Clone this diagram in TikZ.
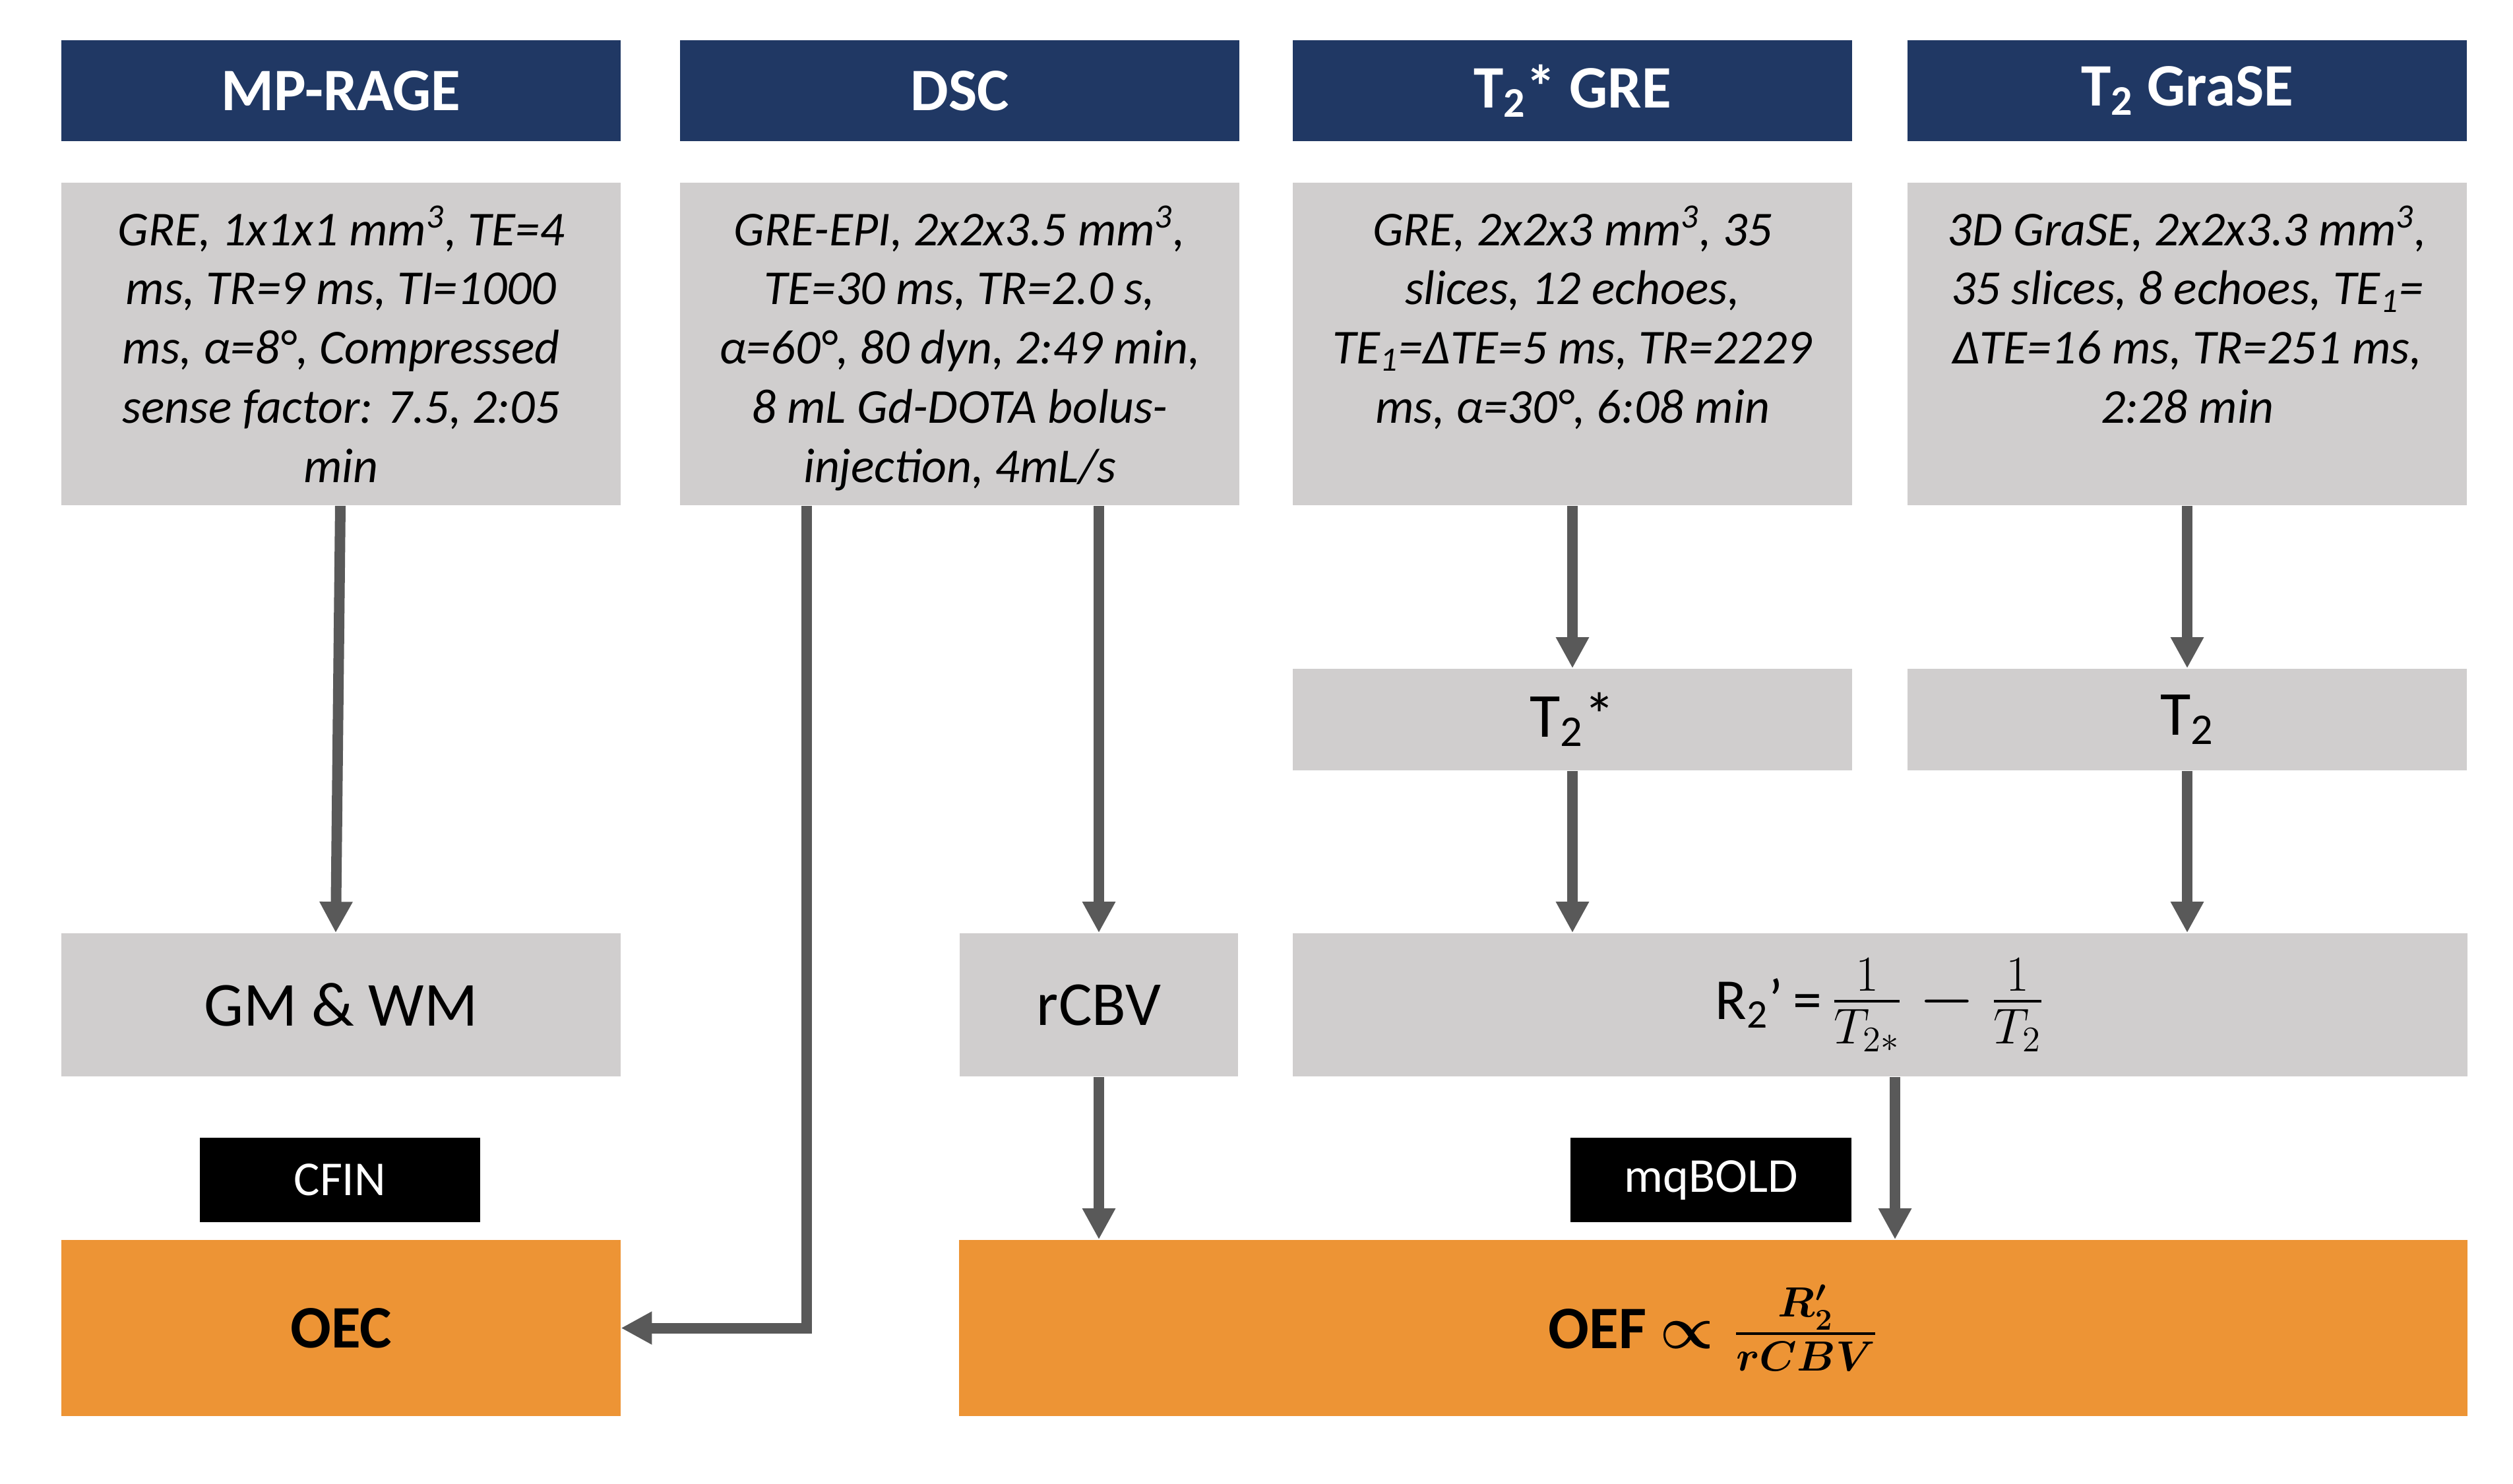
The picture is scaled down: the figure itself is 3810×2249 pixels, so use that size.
\RequirePackage{fix-cm}
\documentclass[tikz,border=0pt]{standalone}
\usepackage{amsmath}
\usepackage{fontspec}
\setmainfont{Carlito}
\usetikzlibrary{arrows.meta}
\definecolor{navy}{HTML}{203864}
\definecolor{boxgray}{HTML}{D0CECE}
\definecolor{oeforange}{HTML}{ED9435}
\definecolor{arrgray}{HTML}{595959}

\begin{document}
\begin{tikzpicture}[x=0.01cm,y=-0.01cm,
	head/.style={fill=navy, text=white, minimum width=8.47cm, minimum height=1.53cm, inner sep=0pt, font=\fontsize{26}{30}\selectfont\bfseries},
	param/.style={fill=boxgray, minimum width=8.47cm, minimum height=4.89cm, inner sep=0pt, align=center, font=\fontsize{21}{25.5}\selectfont\itshape},
	result/.style={fill=boxgray, minimum width=8.47cm, minimum height=2.17cm, inner sep=0pt, font=\fontsize{27}{32}\selectfont},
	tag/.style={fill=black, text=white, minimum width=4.25cm, minimum height=1.28cm, inner sep=0pt, font=\fontsize{21}{25}\selectfont},
	outc/.style={fill=oeforange, minimum width=8.47cm, minimum height=2.67cm, inner sep=0pt, font=\fontsize{26}{30}\selectfont\bfseries},
	arr/.style={draw=arrgray, line width=0.16cm, -{Triangle[width=0.47cm,length=0.47cm]}}]
	\useasboundingbox (0,0) rectangle (3810,2249);
	\node[head] (hd1) at (517,137.5) {MP-RAGE};
	\node[head] (hd2) at (1455,137.5) {DSC};
	\node[head] (hd3) at (2384,137.5) {T\textsubscript{2}* GRE};
	\node[head] (hd4) at (3316,137.5) {T\textsubscript{2} GraSE};
	\node[param] (par1) at (517,521.5) {GRE, 1x1x1 mm\textsuperscript{3}, TE=4\\ms, TR=9 ms, TI=1000\\ms, α=8°, Compressed\\sense factor: 7.5, 2:05\\min};
	\node[param] (par2) at (1455,521.5) {GRE-EPI, 2x2x3.5 mm\textsuperscript{3},\\TE=30 ms, TR=2.0 s,\\α=60°, 80 dyn, 2:49 min,\\8 mL Gd-DOTA bolus-\\\smash{injection, 4mL/s}};
	\node[param] (par3) at (2384,521.5) {GRE, 2x2x3 mm\textsuperscript{3}, 35\\slices, 12 echoes,\\TE\textsubscript{1}=ΔTE=5 ms, TR=2229\\ms, α=30°, 6:08 min\\\mbox{}};
	\node[param] (par4) at (3316,521.5) {3D GraSE, 2x2x3.3 mm\textsuperscript{3},\\35 slices, 8 echoes, TE\textsubscript{1}=\\ΔTE=16 ms, TR=251 ms,\\2:28 min\\\mbox{}};
	\node[result, minimum height=1.54cm] (t2s) at (2384,1091) {T\textsubscript{2}*};
	\node[result, minimum height=1.54cm] (t2) at (3316,1091) {T\textsubscript{2}};
	\node[result] (gm) at (517,1523.5) {GM \& WM};
	\node[result, minimum width=4.22cm] (rcbv) at (1666,1523.5) {rCBV};
	\node[result, minimum width=17.8cm, font=\fontsize{25}{30}\selectfont] (r2) at (2850,1523.5) {R\textsubscript{2}'\,=\,{\fontsize{31}{36}\selectfont$\frac{1}{T_{2*}}$\ $-$\ $\frac{1}{T_2}$}};
	\node[tag] (cfin) at (515.5,1789) {CFIN};
	\node[tag] (mqb) at (2594,1789) {mqBOLD};
	\node[outc] (oec) at (517,2013.5) {OEC};
	\node[outc, minimum width=22.85cm] (oef) at (2597.5,2013.5) {OEF {\boldmath$\propto\frac{R_2'}{rCBV}$}};
	\draw[arr] ([xshift=-0.01cm]par1.south) -- ([xshift=-0.08cm]gm.north);
	\draw[arr] ([xshift=-2.32cm]par2.south) |- (oec.east);
	\draw[arr] (par2.south -| rcbv.north) -- (rcbv.north);
	\draw[arr] (par3.south) -- (t2s.north);
	\draw[arr] (par4.south) -- (t2.north);
	\draw[arr] (t2s.south) -- (t2s.south |- r2.north);
	\draw[arr] (t2.south) -- (t2.south |- r2.north);
	\draw[arr] (rcbv.south) -- (rcbv.south |- oef.north);
	\draw[arr] ([xshift=0.23cm]r2.south) -- ([xshift=0.23cm]r2.south |- oef.north);
\end{tikzpicture}
\end{document}
